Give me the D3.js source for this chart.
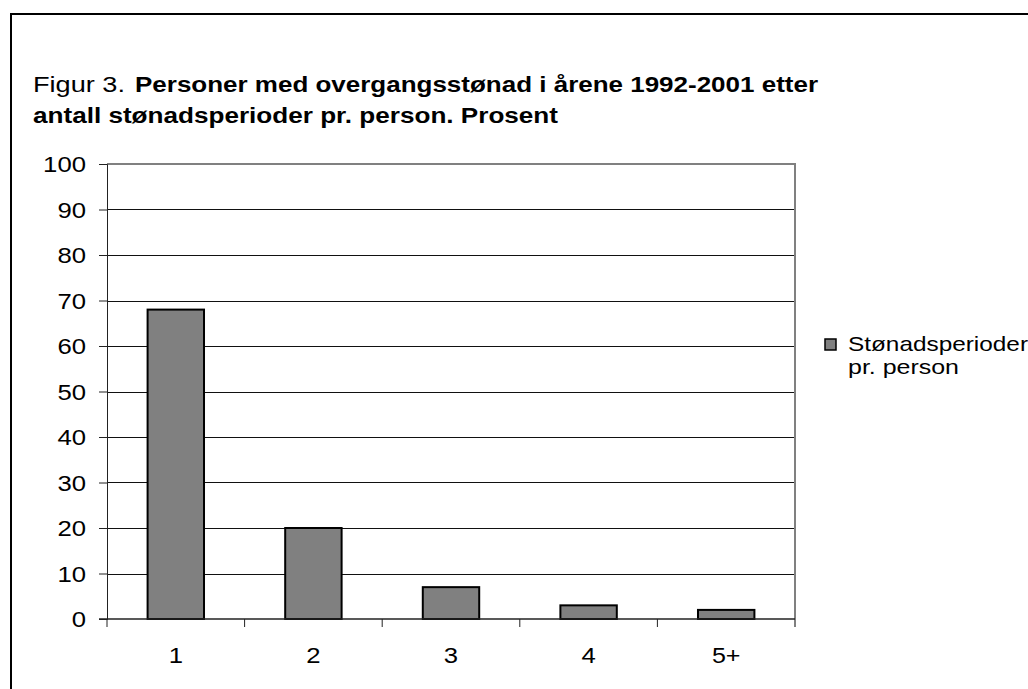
<!DOCTYPE html>
<html><head><meta charset="utf-8">
<script src="https://cdn.jsdelivr.net/npm/d3@7"></script>
<style>body{margin:0;background:#fff;}svg{display:block;font-family:Arial,"Liberation Sans",sans-serif;}</style>
</head><body>
<script>
const categories = ["1","2","3","4","5+"];
const values = [68, 20, 7, 3, 2];
const yTicks = [0,10,20,30,40,50,60,70,80,90,100];
const seriesName = ["Stønadsperioder", "pr. person"];
const titlePrefix = "Figur 3.";
const titleLines = ["Personer med overgangsstønad i årene 1992-2001 etter", "antall stønadsperioder pr. person. Prosent"];

const W = 1028, H = 689;
const FONT = "Arial, 'Liberation Sans', sans-serif";
const svg = d3.select("body").append("svg").attr("width", W).attr("height", H);

// outer frame
svg.append("path").attr("d", `M11,${H+5} V14 H${W+5}`).attr("fill","none").attr("stroke","#000").attr("stroke-width",2);

// title
svg.append("text").attr("x", 33).attr("y", 92).attr("font-size", 22).attr("fill","#000")
  .attr("textLength", 92).attr("lengthAdjust","spacingAndGlyphs").text(titlePrefix);
svg.append("text").attr("x", 135).attr("y", 92).attr("font-size", 22).attr("font-weight","bold")
  .attr("textLength", 683).attr("lengthAdjust","spacingAndGlyphs").text(titleLines[0]);
svg.append("text").attr("x", 33).attr("y", 123).attr("font-size", 22).attr("font-weight","bold")
  .attr("textLength", 525).attr("lengthAdjust","spacingAndGlyphs").text(titleLines[1]);

const x0 = 107, x1 = 795, y0 = 619, y1 = 164;
const x = d3.scaleBand().domain(categories).range([x0, x1]).paddingInner(0.59).paddingOuter(0.295);
const xb = d3.scaleBand().domain(categories).range([x0, x1]);
const y = d3.scaleLinear().domain([0,100]).range([y0, y1]);

// gridlines
svg.append("g").selectAll("line").data(yTicks.filter(d => d > 0 && d < 100)).join("line")
  .attr("x1", x0).attr("x2", x1).attr("y1", d => Math.round(y(d))+0.5).attr("y2", d => Math.round(y(d))+0.5)
  .attr("stroke", "#111").attr("stroke-width", 1);

// plot area border (top, right) gray
svg.append("path").attr("d", `M${x0},${y1} H${x1} V${y0+8}`).attr("fill","none").attr("stroke","#808080").attr("stroke-width",2);

// bars
svg.append("g").selectAll("rect").data(values).join("rect")
  .attr("x", (d,i) => x(categories[i])).attr("width", x.bandwidth())
  .attr("y", d => y(d)).attr("height", d => y0 - y(d))
  .attr("fill", "#808080").attr("stroke", "#000").attr("stroke-width", 2);

// y axis
const yAxis = d3.axisLeft(y).tickValues(yTicks).tickSize(8).tickPadding(13).tickFormat(d3.format("d"));
const gy = svg.append("g").attr("transform", `translate(${x0},0)`).call(yAxis);
gy.select(".domain").attr("stroke", "#222");
gy.selectAll(".tick line").attr("stroke", "#222");
gy.selectAll("text").attr("font-size", 22).attr("font-family", FONT).attr("fill", "#000")
  .attr("textLength", d => String(d).length * 14.3).attr("lengthAdjust","spacingAndGlyphs").attr("dy","0.36em");

// x axis
const xAxis = d3.axisBottom(xb).tickSize(0).tickPadding(28);
const gx = svg.append("g").attr("transform", `translate(0,${y0})`).call(xAxis);
gx.select(".domain").remove();
gx.selectAll("text").attr("font-size", 22).attr("font-family", FONT).attr("fill", "#000")
  .attr("textLength", d => String(d).length * 14.3).attr("lengthAdjust","spacingAndGlyphs");
svg.append("line").attr("x1", x0-8).attr("x2", x1).attr("y1", y0).attr("y2", y0).attr("stroke","#222").attr("stroke-width",1.5);
// category separator ticks
svg.append("g").selectAll("line").data(d3.range(categories.length)).join("line")
  .attr("x1", i => x0 + i * xb.step()).attr("x2", i => x0 + i * xb.step())
  .attr("y1", y0).attr("y2", y0 + 8).attr("stroke", "#222");

// legend
svg.append("rect").attr("x", 825).attr("y", 339).attr("width", 11).attr("height", 11)
  .attr("fill", "#808080").attr("stroke", "#000").attr("stroke-width", 1.5);
svg.append("text").attr("x", 848).attr("y", 351).attr("font-size", 21)
  .attr("textLength", 180).attr("lengthAdjust","spacingAndGlyphs").text(seriesName[0]);
svg.append("text").attr("x", 848).attr("y", 374).attr("font-size", 21)
  .attr("textLength", 111).attr("lengthAdjust","spacingAndGlyphs").text(seriesName[1]);
</script>
</body></html>
